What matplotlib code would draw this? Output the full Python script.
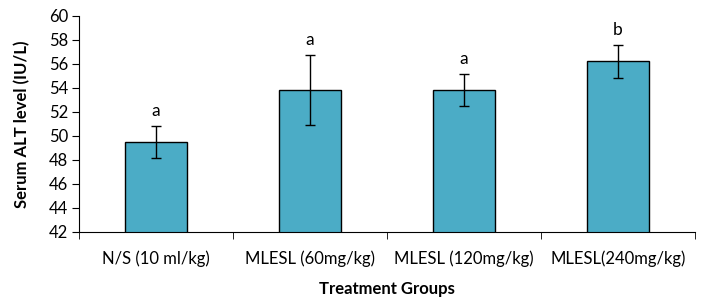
import matplotlib
matplotlib.use("Agg")
import matplotlib.pyplot as plt
import numpy as np

categories = ["N/S (10 ml/kg)", "MLESL (60mg/kg)", "MLESL (120mg/kg)", "MLESL(240mg/kg)"]
values = [49.5, 53.83, 53.83, 56.22]
errors = [1.37, 2.95, 1.37, 1.38]
letters = ["a", "a", "a", "b"]

plt.rcParams['font.family'] = ['Lato', 'DejaVu Sans']

fig = plt.figure(figsize=(7.03, 3.01), dpi=100)
ax = fig.add_axes([79/703, 1-232/301, (695-79)/703, (232-16)/301])

x = np.arange(len(categories))
ax.bar(x, values, width=0.4, color="#4BACC6", edgecolor="black", linewidth=1.0,
       yerr=errors, error_kw=dict(ecolor="black", elinewidth=1.0, capsize=3.3, capthick=1.0),
       bottom=0, zorder=2)
for xi, v, e, l in zip(x, values, errors, letters):
    ax.text(xi, v + e + 0.55, l, ha="center", va="bottom", fontsize=12.5)

ax.set_ylim(42, 60)
ax.set_yticks(np.arange(42, 61, 2))
ax.set_xlim(-0.5, len(categories) - 0.5)
ax.set_xticks(x)
ax.set_xticklabels(categories, fontsize=12)
ax.set_xticks(np.arange(-0.5, len(categories), 1), minor=True)
ax.tick_params(axis="x", which="major", length=0, pad=13)
ax.tick_params(axis="x", which="minor", length=5, direction="out")
ax.tick_params(axis="y", length=5, direction="out", labelsize=12, pad=3)
ax.spines["top"].set_visible(False)
ax.spines["right"].set_visible(False)
ax.set_ylabel("Serum ALT level (IU/L)", fontsize=12, fontweight="bold", labelpad=13)
ax.set_xlabel("Treatment Groups", fontsize=12, fontweight="bold", labelpad=10)

fig.savefig("out.png", dpi=100)
